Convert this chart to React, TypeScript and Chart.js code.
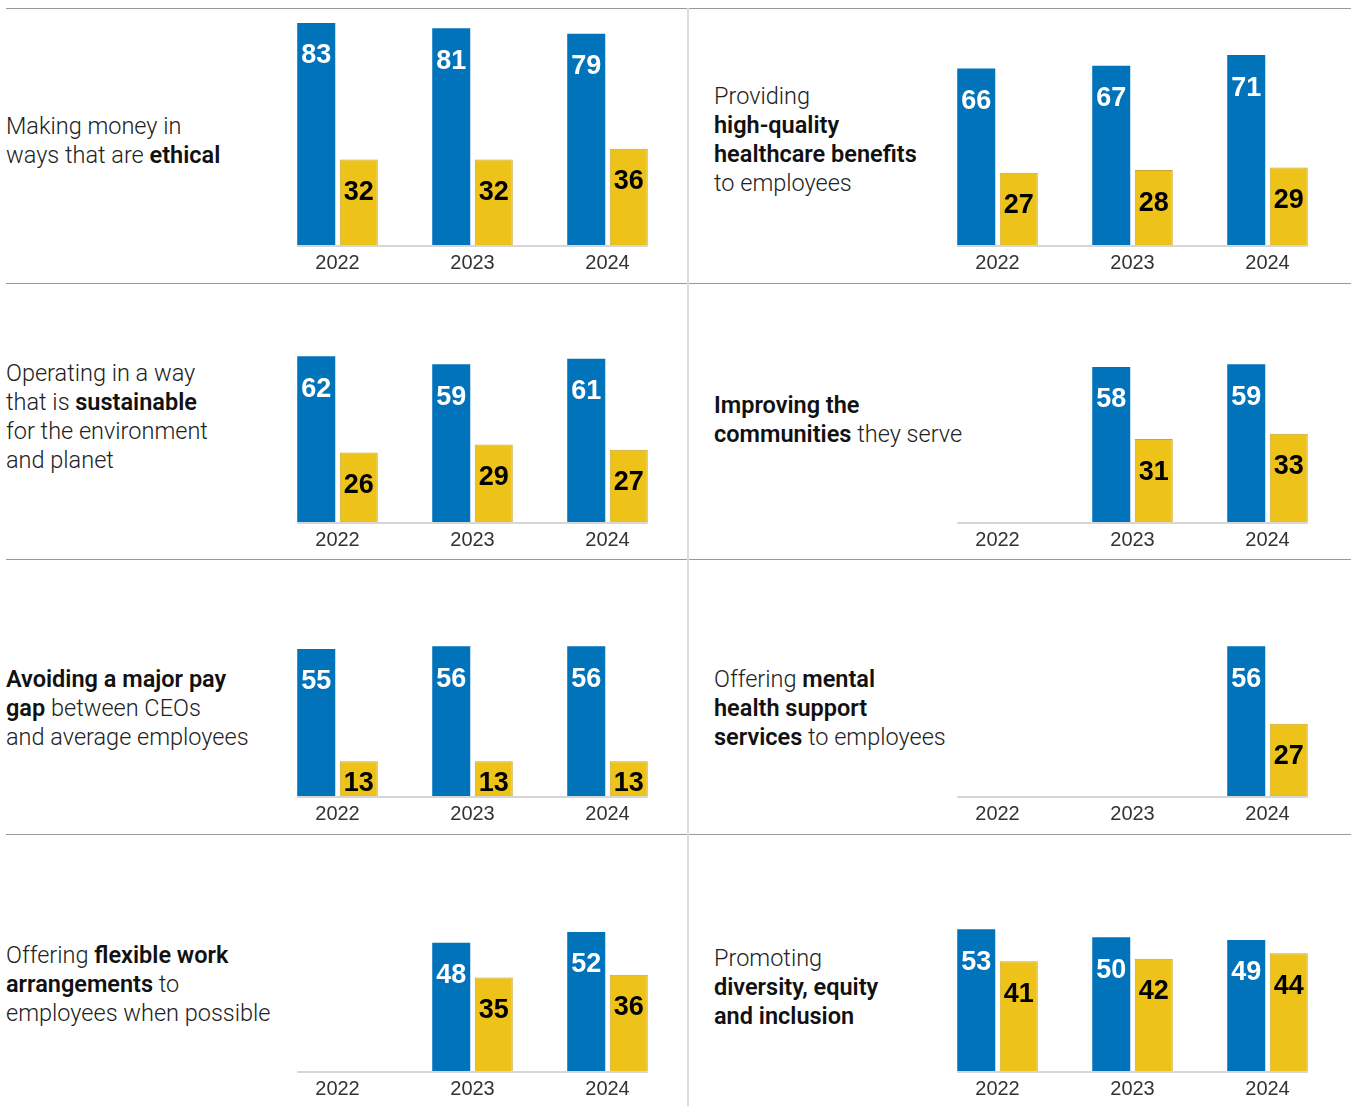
import React, { useEffect, useRef } from "react";
import { Chart, registerables } from "chart.js";

Chart.register(...registerables);

// ---------- data ----------
const years = ["2022", "2023", "2024"];

const ethicalBlue = [83, 81, 79];
const ethicalGold = [32, 32, 36];

const healthcareBlue = [66, 67, 71];
const healthcareGold = [27, 28, 29];

const sustainableBlue = [62, 59, 61];
const sustainableGold = [26, 29, 27];

const communitiesBlue = [null, 58, 59];
const communitiesGold = [null, 31, 33];

const payGapBlue = [55, 56, 56];
const payGapGold = [13, 13, 13];

const mentalHealthBlue = [null, null, 56];
const mentalHealthGold = [null, null, 27];

const flexibleBlue = [null, 48, 52];
const flexibleGold = [null, 35, 36];

const deiBlue = [53, 50, 49];
const deiGold = [41, 42, 44];

// label lines: each line is a list of [text, bold] pieces
type Piece = [string, boolean];
const ethicalLabel: Piece[][] = [
  [["Making money in", false]],
  [["ways that are ", false], ["ethical", true]],
];
const healthcareLabel: Piece[][] = [
  [["Providing", false]],
  [["high-quality", true]],
  [["healthcare benefits", true]],
  [["to employees", false]],
];
const sustainableLabel: Piece[][] = [
  [["Operating in a way", false]],
  [["that is ", false], ["sustainable", true]],
  [["for the environment", false]],
  [["and planet", false]],
];
const communitiesLabel: Piece[][] = [
  [["Improving the", true]],
  [["communities", true], [" they serve", false]],
];
const payGapLabel: Piece[][] = [
  [["Avoiding a major pay", true]],
  [["gap", true], [" between CEOs", false]],
  [["and average employees", false]],
];
const mentalHealthLabel: Piece[][] = [
  [["Offering ", false], ["mental", true]],
  [["health support", true]],
  [["services", true], [" to employees", false]],
];
const flexibleLabel: Piece[][] = [
  [["Offering ", false], ["flexible work", true]],
  [["arrangements", true], [" to", false]],
  [["employees when possible", false]],
];
const deiLabel: Piece[][] = [
  [["Promoting", false]],
  [["diversity, equity", true]],
  [["and inclusion", true]],
];

// ---------- layout constants ----------
const BLUE = "#0073BB";
const GOLD = "#EEC319";
const GOLD_BORDER = "#C9A42A";
const Y_MAX = 86;
const AREA_H = 230;
const AXIS_H = 34;
const CAT_PCT = 0.63;
const BAR_PCT = 0.894;
const COL_X = [270, 930];
const CHART_W = 405;
const BASELINES = [245, 522, 796, 1071];
const LABEL_X = [6, 714];
const H_LINES = [8, 283, 559, 834];

const panels = [
  { col: 0, row: 0, blue: ethicalBlue, gold: ethicalGold, label: ethicalLabel, labelTop: 112 },
  { col: 1, row: 0, blue: healthcareBlue, gold: healthcareGold, label: healthcareLabel, labelTop: 82 },
  { col: 0, row: 1, blue: sustainableBlue, gold: sustainableGold, label: sustainableLabel, labelTop: 359 },
  { col: 1, row: 1, blue: communitiesBlue, gold: communitiesGold, label: communitiesLabel, labelTop: 391 },
  { col: 0, row: 2, blue: payGapBlue, gold: payGapGold, label: payGapLabel, labelTop: 665 },
  { col: 1, row: 2, blue: mentalHealthBlue, gold: mentalHealthGold, label: mentalHealthLabel, labelTop: 665 },
  { col: 0, row: 3, blue: flexibleBlue, gold: flexibleGold, label: flexibleLabel, labelTop: 941 },
  { col: 1, row: 3, blue: deiBlue, gold: deiGold, label: deiLabel, labelTop: 944 },
];

const baselinePlugin = {
  id: "baseline",
  beforeDatasetsDraw(chart: any) {
    const x = chart.scales.x;
    const y = chart.scales.y;
    const n = chart.data.labels.length;
    const catW = x.width / n;
    const group = catW * CAT_PCT;
    const chunk = group / 2;
    const inset = (chunk - chunk * BAR_PCT) / 2;
    const left = x.getPixelForValue(0) - group / 2 + inset;
    const right = x.getPixelForValue(n - 1) + group / 2 - inset;
    const y0 = y.getPixelForValue(0);
    const ctx = chart.ctx;
    ctx.save();
    ctx.strokeStyle = "#d6d6d6";
    ctx.lineWidth = 2;
    ctx.beginPath();
    ctx.moveTo(left, y0 + 1);
    ctx.lineTo(right, y0 + 1);
    ctx.stroke();
    ctx.restore();
  },
};

const valueLabelPlugin = {
  id: "valueLabels",
  afterDatasetsDraw(chart: any) {
    const ctx = chart.ctx;
    chart.data.datasets.forEach((ds: any, di: number) => {
      const meta = chart.getDatasetMeta(di);
      meta.data.forEach((el: any, i: number) => {
        const v = ds.data[i];
        if (v === null || v === undefined) return;
        const p = el.getProps(["x", "y", "base"], true);
        const ty = Math.min(p.y + 33, p.base - 12);
        ctx.save();
        ctx.font = 'bold 27px "Liberation Sans", Arial, sans-serif';
        ctx.fillStyle = di === 0 ? "#ffffff" : "#000000";
        ctx.textAlign = "center";
        ctx.textBaseline = "middle";
        ctx.fillText(String(v), p.x, ty);
        ctx.restore();
      });
    });
  },
};

function BarPanel({ blue, gold, left, top }: { blue: (number | null)[]; gold: (number | null)[]; left: number; top: number }) {
  const ref = useRef<HTMLCanvasElement>(null);
  useEffect(() => {
    const chart = new Chart(ref.current as HTMLCanvasElement, {
      type: "bar",
      data: {
        labels: years,
        datasets: [
          {
            data: blue as any,
            backgroundColor: BLUE,
            borderWidth: 0,
            categoryPercentage: CAT_PCT,
            barPercentage: BAR_PCT,
          },
          {
            data: gold as any,
            backgroundColor: GOLD,
            borderColor: GOLD_BORDER,
            borderWidth: 1,
            categoryPercentage: CAT_PCT,
            barPercentage: BAR_PCT,
          },
        ],
      },
      options: {
        animation: false,
        responsive: false,
        maintainAspectRatio: false,
        layout: { padding: 0 },
        events: [],
        plugins: { legend: { display: false }, tooltip: { enabled: false } },
        scales: {
          x: {
            grid: { display: false, drawTicks: false },
            border: { display: false },
            ticks: {
              color: "#333333",
              font: { family: '"Liberation Sans", Arial, sans-serif', size: 20 },
              padding: 6,
              maxRotation: 0,
            },
            afterFit: (s: any) => {
              s.height = AXIS_H;
            },
          },
          y: { display: false, min: 0, max: Y_MAX },
        },
      } as any,
      plugins: [baselinePlugin, valueLabelPlugin],
    });
    return () => chart.destroy();
  }, []);
  return (
    <canvas
      ref={ref}
      width={CHART_W}
      height={AREA_H + AXIS_H}
      style={{ position: "absolute", left, top, width: CHART_W, height: AREA_H + AXIS_H }}
    />
  );
}

function Label({ lines, left, top }: { lines: Piece[][]; left: number; top: number }) {
  return (
    <div
      style={{
        position: "absolute",
        left,
        top,
        fontFamily: "Roboto, 'Liberation Sans', Arial, sans-serif",
        fontSize: 23.5,
        lineHeight: "29px",
        color: "#1a1a1a",
        whiteSpace: "nowrap",
      }}
    >
      {lines.map((line, li) => (
        <div key={li}>
          {line.map(([t, b], pi) => (
            <span key={pi} style={{ fontWeight: b ? 600 : 300, color: b ? "#111" : "#222" }}>
              {t}
            </span>
          ))}
        </div>
      ))}
    </div>
  );
}

export default function App() {
  return (
    <div style={{ position: "absolute", left: 0, top: 0, width: 1351, height: 1106, background: "#fff", overflow: "hidden" }}>
      {H_LINES.map((y, i) => (
        <div key={"h" + i} style={{ position: "absolute", left: 6, top: y, width: 1345, height: 1, background: "#9a9a9a" }} />
      ))}
      <div style={{ position: "absolute", left: 687, top: 8, width: 2, height: 1098, background: "#dcdcdc" }} />
      {panels.map((p, i) => (
        <React.Fragment key={i}>
          <Label lines={p.label} left={LABEL_X[p.col]} top={p.labelTop} />
          <BarPanel blue={p.blue} gold={p.gold} left={COL_X[p.col]} top={BASELINES[p.row] - AREA_H} />
        </React.Fragment>
      ))}
    </div>
  );
}
